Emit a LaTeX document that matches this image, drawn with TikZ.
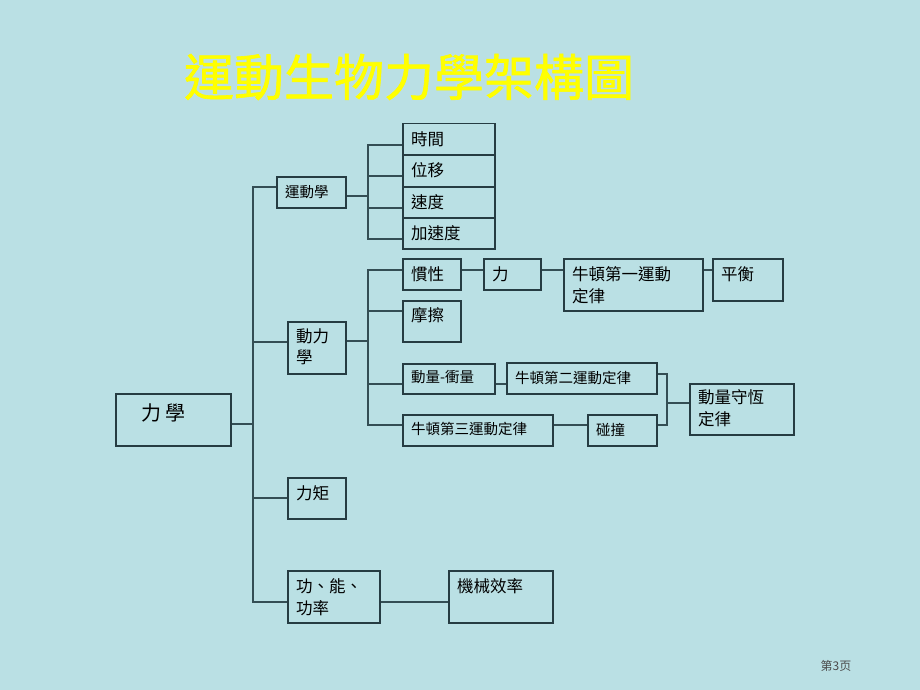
\documentclass[tikz,border=0pt]{standalone}
\usepackage{fontspec}
\newfontfamily\cjk{Noto Sans CJK TC}
\newfontfamily\cjktitle[FakeBold=1.2]{Noto Sans CJK TC}
\newfontfamily\cjksc{Noto Sans CJK SC}
\usetikzlibrary{calc}
\definecolor{bgc}{RGB}{186,224,228}
\definecolor{boxc}{RGB}{38,60,66}
\definecolor{linec}{RGB}{52,78,84}
\definecolor{titlec}{RGB}{255,255,0}

\begin{document}
\begin{tikzpicture}[x=1pt, y=-1pt,
    box/.style 2 args={draw=boxc, line width=1.5pt, anchor=north west, inner sep=0pt, minimum width=#1, minimum height=#2},
    big/.style={anchor=north west, inner xsep=9pt, inner ysep=8.5pt, align=left, font=\cjk\fontsize{16.5}{21.5}\selectfont},
    small/.style={anchor=north west, inner xsep=9pt, inner ysep=9pt, align=left, font=\cjk\fontsize{14.5}{19}\selectfont},
    conn/.style={draw=linec, line width=1.7pt}]
  \fill[bgc] (0,0) rectangle (920,690);
  \useasboundingbox (0,0) rectangle (920,690);

  % title and page number
  \node[text=titlec, font=\cjktitle\fontsize{50}{50}\selectfont] (title) at (409,77) {運動生物力學架構圖};
  \node[text=black!70, font=\cjksc\fontsize{12}{12}\selectfont] (page) at (836,666) {第3页};

  % root and first level
  \node[box={115}{52}, label={[big, inner xsep=26pt, inner ysep=11pt, font=\cjk\fontsize{20}{24}\selectfont]north west:力 學}] (lixue) at (115,393) {};
  \node[box={69}{31}, label={[small]north west:運動學}] (yundong) at (276,176) {};
  \node[box={58}{52}, label={[big, inner ysep=7pt]north west:動力\\學}] (donglixue) at (287,321) {};
  \node[box={58}{41}, label={[big]north west:力矩}] (liju) at (287,477) {};
  \node[box={92}{52}, label={[big]north west:功、能、\\功率}] (gong) at (287,570) {};
  \node[box={104}{52}, label={[big]north west:機械效率}] (jixie) at (448,570) {};

  % kinematics
  \node[box={92}{31}, label={[big]north west:時間}] (shijian) at (402,123) {};
  \node[box={92}{32}, label={[big]north west:位移}] (weiyi) at (402,154) {};
  \node[box={92}{31}, label={[big]north west:速度}] (sudu) at (402,186) {};
  \node[box={92}{31}, label={[big]north west:加速度}] (jiasudu) at (402,217) {};

  % dynamics
  \node[box={58}{31}, label={[big]north west:慣性}] (guanxing) at (402,258) {};
  \node[box={57}{31}, label={[big]north west:力}] (li) at (483,258) {};
  \node[box={139}{52}, label={[big]north west:牛頓第一運動\\定律}] (niu1) at (563,258) {};
  \node[box={70}{42}, label={[big]north west:平衡}] (pingheng) at (712,258) {};
  \node[box={58}{41}, label={[big, inner ysep=7pt]north west:摩擦}] (moca) at (402,300) {};
  \node[box={92}{30}, label={[small, inner ysep=7pt]north west:動量-衝量}] (dongliang) at (402,363) {};
  \node[box={150}{31}, label={[small]north west:牛頓第二運動定律}] (niu2) at (506,362) {};
  \node[box={150}{31}, label={[small, inner ysep=8pt]north west:牛頓第三運動定律}] (niu3) at (402,414) {};
  \node[box={69}{31}, label={[small]north west:碰撞}] (pengzhuang) at (587,414) {};
  \node[box={104}{51}, label={[big, inner ysep=6.5pt]north west:動量守恆\\定律}] (shouheng) at (689,383) {};

  % junctions
  \coordinate (bus0) at (253,424);
  \coordinate (bus1) at (368,196);
  \coordinate (bus2) at (368,341);
  \coordinate (bus3) at (667,403);

  % connectors
  \draw[conn] (lixue.east |- bus0) -- (bus0);
  \foreach \n/\s in {yundong/5.5, donglixue/6, liju/0, gong/-5}
    \draw[conn] (bus0) |- ([yshift=\s]\n.west);
  \draw[conn] (yundong.east |- bus1) -- (bus1);
  \foreach \n in {shijian, weiyi, sudu, jiasudu}
    \draw[conn] (bus1) |- ([yshift=-5.5]\n.west);
  \draw[conn] (donglixue.east |- bus2) -- (bus2);
  \foreach \n/\s in {guanxing/4.5, moca/10.5, dongliang/-5, niu3/5.5}
    \draw[conn] (bus2) |- ([yshift=\s]\n.west);
  \draw[conn] ([yshift=4.5]guanxing.east) -- ([yshift=4.5]guanxing.east -| li.west);
  \draw[conn] ([yshift=4.5]li.east) -- ([yshift=4.5]li.east -| niu1.west);
  \draw[conn] ([yshift=15]niu1.east) -- ([yshift=15]niu1.east -| pingheng.west);
  \draw[conn] ([yshift=-5]dongliang.east) -- ([yshift=-5]dongliang.east -| niu2.west);
  \draw[conn] ([yshift=5.5]niu3.east) -- ([yshift=5.5]niu3.east -| pengzhuang.west);
  \draw[conn] ([yshift=4.5]niu2.east) -| (bus3);
  \draw[conn] ([yshift=5.5]pengzhuang.east) -| (bus3);
  \draw[conn] (bus3) -- (bus3 -| shouheng.west);
  \draw[conn] ([yshift=-5]gong.east) -- ([yshift=-5]gong.east -| jixie.west);
\end{tikzpicture}
\end{document}
